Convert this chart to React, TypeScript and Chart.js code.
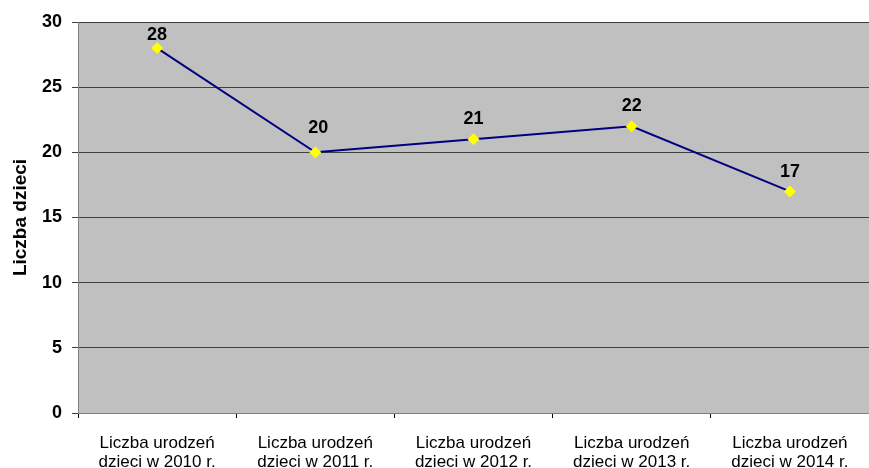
import React, { useEffect, useRef } from "react";
import { Chart, registerables } from "chart.js";

Chart.register(...registerables);

const categories: string[][] = [
  ["Liczba urodzeń", "dzieci w 2010 r."],
  ["Liczba urodzeń", "dzieci w 2011 r."],
  ["Liczba urodzeń", "dzieci w 2012 r."],
  ["Liczba urodzeń", "dzieci w 2013 r."],
  ["Liczba urodzeń", "dzieci w 2014 r."],
];
const births: number[] = [28, 20, 21, 22, 17];
const yTitle = "Liczba dzieci";
const yMin = 0;
const yMax = 30;
const yStep = 5;

const FONT = "Arial, 'Liberation Sans', sans-serif";

// gap (px) between each marker and its value label, as placed in the original
const LABEL_GAPS = [8, 19, 15, 15, 14];

const plotBg = {
  id: "plotBg",
  beforeDraw(chart: any) {
    const { ctx, chartArea } = chart;
    ctx.save();
    ctx.fillStyle = "#C0C0C0";
    ctx.fillRect(chartArea.left, chartArea.top, chartArea.right - chartArea.left, chartArea.bottom - chartArea.top);
    ctx.restore();
  },
};

const dataLabels = {
  id: "dataLabels",
  afterDatasetsDraw(chart: any) {
    const { ctx } = chart;
    const meta = chart.getDatasetMeta(0);
    const data = chart.data.datasets[0].data;
    ctx.save();
    ctx.font = `bold 18px ${FONT}`;
    ctx.fillStyle = "#000";
    ctx.textAlign = "center";
    ctx.textBaseline = "alphabetic";
    meta.data.forEach((pt: any, i: number) => {
      ctx.fillText(String(data[i]), pt.x + (i === 1 ? 3 : 0), pt.y - (LABEL_GAPS[i] ?? 12));
    });
    ctx.restore();
  },
};

export default function App() {
  const ref = useRef<HTMLCanvasElement>(null);
  useEffect(() => {
    document.body.style.margin = "0";
    const chart = new Chart(ref.current!, {
      type: "line",
      data: {
        labels: categories,
        datasets: [
          {
            data: births,
            borderColor: "#000080",
            borderWidth: 2,
            pointStyle: "rectRot",
            pointRadius: 6,
            pointBackgroundColor: "#FFFF00",
            pointBorderColor: "#FFFF00",
            pointBorderWidth: 0,
            tension: 0,
          },
        ],
      },
      options: {
        animation: false,
        responsive: false,
        maintainAspectRatio: false,
        layout: { autoPadding: false, padding: { top: 22, right: 0, left: 0, bottom: 0 } },
        plugins: { legend: { display: false }, tooltip: { enabled: false } },
        scales: {
          x: {
            offset: true,
            grid: { display: true, drawOnChartArea: false, drawTicks: true, tickLength: 5, color: "#000", offset: true },
            border: { display: true, color: "#808080", width: 1 },
            ticks: {
              color: "#000",
              font: { family: FONT, size: 17, lineHeight: 1.12 },
              padding: 16,
              maxRotation: 0,
              autoSkip: false,
            },
            afterFit(scale: any) {
              scale.height = 55;
              scale.paddingRight = 0;
              scale.paddingLeft = 0;
            },
          },
          y: {
            min: yMin,
            max: yMax,
            ticks: {
              stepSize: yStep,
              color: "#000",
              font: { family: FONT, size: 18, weight: "bold" },
              padding: 10,
            },
            grid: { color: "#404040", lineWidth: 1, drawTicks: true, tickLength: 6, tickColor: "#404040" },
            border: { display: true, color: "#808080", width: 1 },
            title: {
              display: true,
              text: yTitle,
              color: "#000",
              font: { family: FONT, size: 19, weight: "bold" },
              padding: { top: 9, bottom: 0 },
            },
            afterFit(scale: any) {
              scale.width = 78;
            },
          },
        },
      },
      plugins: [plotBg, dataLabels],
    });
    return () => chart.destroy();
  }, []);
  return (
    <div style={{ width: 869, height: 468 }}>
      <canvas ref={ref} width={869} height={468} style={{ display: "block" }} />
    </div>
  );
}
